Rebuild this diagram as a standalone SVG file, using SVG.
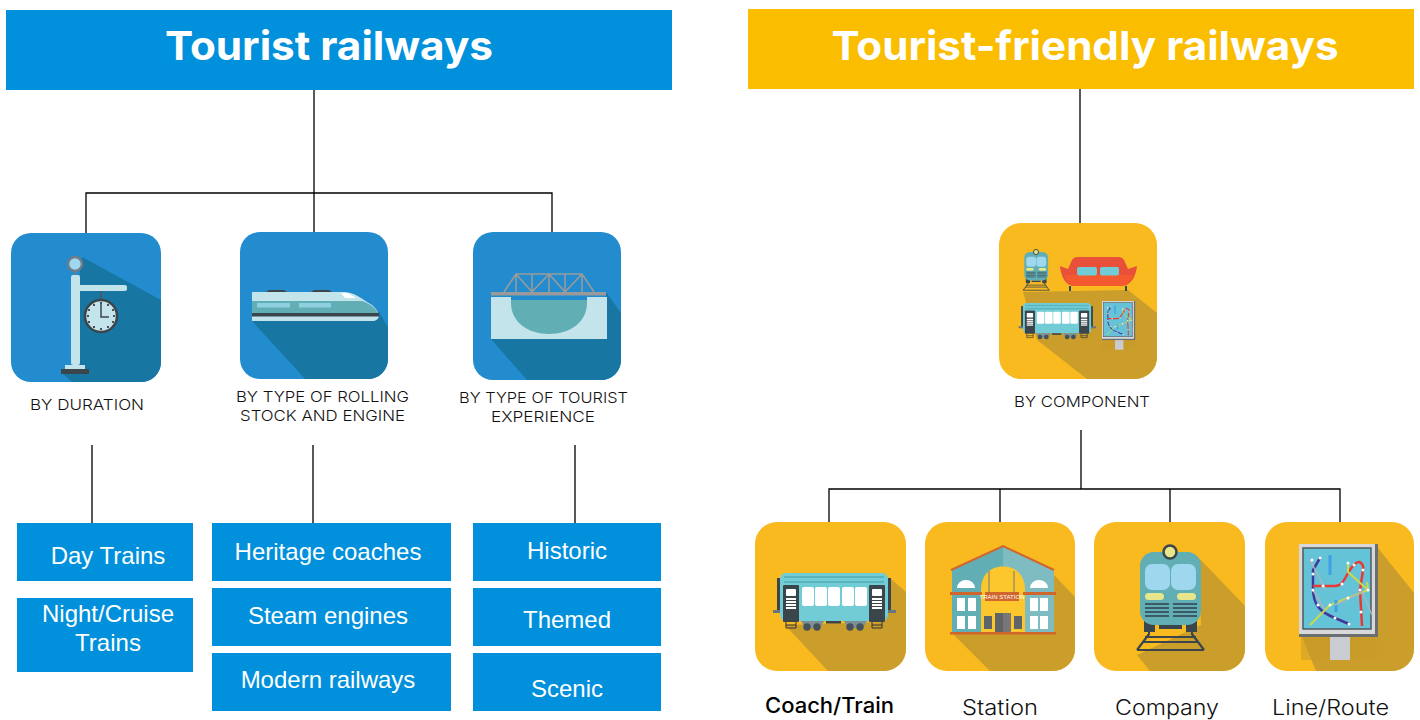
<svg xmlns="http://www.w3.org/2000/svg" width="1420" height="720" viewBox="0 0 1420 720">
<style>
.hd{font:700 40px Inter,"Liberation Sans",sans-serif;fill:#fff;text-anchor:middle}
.bx{font:24px "Liberation Sans",Arial,sans-serif;fill:#fff;text-anchor:middle}
.cap{font:300 15px Inter,"Liberation Sans",sans-serif;fill:#111;text-anchor:middle}
.lb{font:300 21px Inter,"Liberation Sans",sans-serif;fill:#111;text-anchor:middle}
.c{fill:none;stroke:#000;stroke-width:1.3}
.blue{fill:#0190db}
.tb{fill:#228ccf}.sb{fill:#1776a2}
.ty{fill:#f9ba20}.sy{fill:#cb9d2b}
.pale{fill:#c2e4ea}.teal{fill:#62aeb5}.dark{fill:#3b464c}.sky{fill:#9fd7ee}.aqua{fill:#72ccd6}
.tr{stroke:#9a9a9a;stroke-width:1.6;fill:none}
</style>
<defs>
<clipPath id="c1"><rect x="11" y="233" width="150" height="149" rx="20"/></clipPath>
<clipPath id="c2"><rect x="240" y="232" width="148" height="147" rx="20"/></clipPath>
<clipPath id="c3"><rect x="473" y="232" width="148" height="148" rx="20"/></clipPath>
<clipPath id="c4"><rect x="999" y="223" width="158" height="156" rx="22"/></clipPath>
<clipPath id="c5"><rect x="755" y="522" width="151" height="149" rx="22"/></clipPath>
<clipPath id="c6"><rect x="925" y="522" width="150" height="149" rx="22"/></clipPath>
<clipPath id="c7"><rect x="1094" y="522" width="151" height="149" rx="22"/></clipPath>
<clipPath id="c8"><rect x="1265" y="522" width="149" height="149" rx="22"/></clipPath>
<filter id="soft"><feGaussianBlur stdDeviation=".5"/></filter>
<g id="coach">
<rect x="777" y="578" width="3" height="35" class="dark"/><rect x="888" y="578" width="3" height="35" class="dark"/>
<rect x="773" y="610" width="8" height="3" fill="#66757f"/><rect x="888" y="610" width="8" height="3" fill="#66757f"/>
<rect x="780" y="573" width="108" height="48" rx="6" class="aqua"/>
<rect x="784" y="576" width="100" height="2" fill="#58b4bf"/><rect x="784" y="581" width="100" height="2" fill="#58b4bf"/>
<g fill="#fff"><rect x="802" y="587" width="12" height="19" rx="2"/><rect x="815" y="587" width="12" height="19" rx="2"/><rect x="828" y="587" width="12" height="19" rx="2"/><rect x="842" y="587" width="12" height="19" rx="2"/><rect x="855" y="587" width="12" height="19" rx="2"/></g>
<rect x="783" y="585" width="16" height="37" rx="1" class="dark"/><rect x="869" y="585" width="16" height="37" rx="1" class="dark"/>
<g fill="#fff"><rect x="786" y="589" width="10" height="7" rx="1"/><rect x="786" y="598" width="10" height="2"/><rect x="786" y="601" width="10" height="2"/><rect x="786" y="604" width="10" height="2"/><rect x="786" y="607" width="10" height="2"/>
<rect x="872" y="589" width="10" height="7" rx="1"/><rect x="872" y="598" width="10" height="2"/><rect x="872" y="601" width="10" height="2"/><rect x="872" y="604" width="10" height="2"/><rect x="872" y="607" width="10" height="2"/></g>
<path d="M786 622v6h10v-6M786 625h10M872 622v6h10v-6M872 625h10" stroke="#333" fill="none"/>
<path d="M801 621h23l-4 7h-15zM844 621h23l-4 7h-15z" fill="#7f8f96"/>
<rect x="826" y="621" width="15" height="2.500" class="dark"/>
<g fill="#44525a"><circle cx="807" cy="627" r="3.700"/><circle cx="817" cy="627" r="3.700"/><circle cx="850" cy="627" r="3.700"/><circle cx="860" cy="627" r="3.700"/></g>
</g>
<g id="loco">
<rect x="1144" y="620" width="11" height="12" class="dark"/><rect x="1186" y="620" width="11" height="12" class="dark"/>
<rect x="1159" y="625" width="23" height="4" class="dark"/>
<path d="M1149 632V635M1192 632V635" stroke="#3b464c" stroke-width="2"/>
<path d="M1137 650L1149 634M1204 650L1192 634M1137 650H1204" fill="none" stroke="#3b464c" stroke-width="2.200"/>
<path d="M1145 637h51M1142 642h57" stroke="#3b464c" stroke-width="2"/>
<rect x="1140" y="552" width="61" height="73" rx="14" class="teal"/>
<rect x="1145" y="564" width="25" height="26" rx="7" class="sky"/><rect x="1171" y="564" width="25" height="26" rx="7" class="sky"/>
<rect x="1145" y="593" width="19" height="7" rx="3.500" fill="#e8e68a"/><rect x="1177" y="593" width="19" height="7" rx="3.500" fill="#e8e68a"/>
<path d="M1145 604h24M1145 608h24M1145 612h24M1145 616h24M1173 604h24M1173 608h24M1173 612h24M1173 616h24" stroke="#3b5a66" stroke-width="2"/>
<circle cx="1170" cy="552" r="6.500" fill="#e8e68a" stroke="#3b464c" stroke-width="2.500"/>
</g>
<g id="map">
<rect x="1301" y="637" width="76" height="23" fill="#c99b2a" opacity=".55"/>
<rect x="1330" y="637" width="20" height="23" fill="#c9ccd0"/>
<rect x="1299" y="544" width="79" height="93" fill="#6b6f72"/>
<rect x="1299" y="544" width="76" height="90" fill="#d6d8da"/>
<rect x="1303" y="548" width="68" height="81" fill="#65c3d8" stroke="#55595c" stroke-width="1.500"/>
<g filter="url(#soft)">
<path d="M1320 558L1313 570V588C1313 605 1320 612 1335 618L1349 624" fill="none" stroke="#42389b" stroke-width="2.500"/>
<path d="M1313 586H1335C1345 586 1346 572 1354 565C1360 558 1364 565 1363 570L1360 590L1362 626" fill="none" stroke="#e63a36" stroke-width="2.500"/>
<path d="M1310 625L1330 605L1348 598L1368 590L1367 582M1348 563V572L1368 590" fill="none" stroke="#c9d94a" stroke-width="2"/>
<path d="M1330 555V575M1336 600V612" fill="none" stroke="#3fa0e6" stroke-width="3"/>
<path d="M1310 560L1326 590M1335 605L1362 592L1372 615M1313 590L1325 610" fill="none" stroke="#aab4bb" stroke-width="1.500"/>
<g fill="#fff"><circle cx="1320" cy="558" r="1.500"/><circle cx="1313" cy="574" r="1.500"/><circle cx="1313" cy="590" r="1.500"/><circle cx="1318" cy="605" r="1.500"/><circle cx="1335" cy="618" r="1.500"/><circle cx="1349" cy="624" r="1.500"/><circle cx="1323" cy="586" r="1.500"/><circle cx="1342" cy="584" r="1.500"/><circle cx="1354" cy="565" r="1.500"/><circle cx="1363" cy="570" r="1.500"/><circle cx="1360" cy="590" r="1.500"/><circle cx="1361" cy="612" r="1.500"/><circle cx="1348" cy="598" r="1.500"/><circle cx="1330" cy="605" r="1.500"/><circle cx="1368" cy="590" r="1.500"/><circle cx="1348" cy="563" r="1.500"/><circle cx="1312" cy="560" r="1.500"/></g>
</g>
</g>
</defs>

<g id="connectors">
<path class="c" d="M314 90V232M86 233V193H552V232"/>
<path class="c" d="M92 445V523M313 445V523M575 445V523"/>
<path class="c" d="M1080 89V223M1081 430V489M829 522V489H1340V522M1000 489V522M1170 489V522"/>
</g>

<g id="header-tourist"><rect class="blue" x="6" y="10" width="666" height="80"/><text class="hd" x="329" y="60" textLength="328" lengthAdjust="spacingAndGlyphs">Tourist railways</text></g>
<g id="header-friendly"><rect fill="#fabd00" x="748" y="9" width="666" height="80"/><text class="hd" x="1085" y="60" textLength="507" lengthAdjust="spacingAndGlyphs">Tourist-friendly railways</text></g>

<g id="by-duration">
<rect class="tb" x="11" y="233" width="150" height="149" rx="20"/>
<path class="sb" clip-path="url(#c1)" d="M82 257L161 300V382H72L61 372L80 360V270Z"/>
<circle cx="75" cy="264" r="7" class="sky" stroke="#6d7c88" stroke-width="2.500"/>
<rect x="74" y="270" width="2" height="6" fill="#6d7c88"/>
<rect x="71" y="275" width="9" height="90" rx="2" class="pale"/>
<rect x="78" y="285" width="49" height="6" rx="2" class="pale"/>
<rect x="65" y="365" width="20" height="5" class="pale"/>
<rect x="61" y="369" width="28" height="5" class="dark"/>
<rect x="100" y="291" width="1.500" height="8" fill="#555"/>
<circle cx="101" cy="316" r="16" class="pale" stroke="#3b464c" stroke-width="2.500"/>
<path d="M101 304V317H109" fill="none" stroke="#3b464c" stroke-width="1.500"/>
<g fill="#222"><circle cx="101" cy="303" r="1"/><circle cx="108" cy="305" r="1"/><circle cx="113" cy="310" r="1"/><circle cx="114" cy="316" r="1"/><circle cx="113" cy="322" r="1"/><circle cx="108" cy="327" r="1"/><circle cx="101" cy="329" r="1"/><circle cx="94" cy="327" r="1"/><circle cx="89" cy="322" r="1"/><circle cx="88" cy="316" r="1"/><circle cx="89" cy="310" r="1"/><circle cx="94" cy="305" r="1"/></g>
<text class="cap" x="87" y="410" textLength="114" lengthAdjust="spacingAndGlyphs">BY DURATION</text>
</g>

<g id="by-rolling-stock">
<rect class="tb" x="240" y="232" width="148" height="147" rx="20"/>
<path class="sb" clip-path="url(#c2)" d="M252 321L297 370L305 379H388V327L379 312Z"/>
<path class="dark" d="M266 292l3-2h15l3 2zM311 292l3-2h15l3 2z"/>
<path class="pale" d="M252 292H345C354 293 360 297 367 302C373 305 377 309 379 315C379 319 376 321 372 321H252Z"/>
<path fill="#fff" d="M341 293H348L356 298H345Z"/>
<path class="teal" d="M252 301H362C368 303 375 307 378 313H252Z"/>
<rect x="257" y="303" width="33" height="4.500" fill="#8ecfe0"/><rect x="299" y="303" width="32" height="4.500" fill="#8ecfe0"/>
<rect x="252" y="313" width="127" height="3.500" class="dark"/>
<text class="cap" x="322.500" y="402" textLength="173" lengthAdjust="spacingAndGlyphs">BY TYPE OF ROLLING</text>
<text class="cap" x="322.500" y="421" textLength="165" lengthAdjust="spacingAndGlyphs">STOCK AND ENGINE</text>
</g>

<g id="by-experience">
<rect class="tb" x="473" y="232" width="148" height="148" rx="20"/>
<path class="sb" clip-path="url(#c3)" d="M491 339L527 380H621V313L606 292L607 339Z"/>
<path class="pale" d="M491 297H607V339H491Z"/>
<rect class="tb" x="511" y="297" width="76" height="3"/>
<path class="teal" d="M511 300H587V303C587 322 570 334 549 334C528 334 511 322 511 303Z"/>
<path class="tr" d="M504 292L516 274H582L594 292M516 274V292M532 274V292M549 274V292M565 274V292M582 274V292M516 274L532 292M532 292L549 274M549 274L565 292M565 292L582 274"/>
<rect x="491" y="292" width="115" height="3.500" fill="#9a9a9a"/>
<text class="cap" x="543.500" y="403" textLength="169" lengthAdjust="spacingAndGlyphs">BY TYPE OF TOURIST</text>
<text class="cap" x="543" y="422" textLength="104" lengthAdjust="spacingAndGlyphs">EXPERIENCE</text>
</g>

<g id="box-day"><rect class="blue" x="17" y="523" width="176" height="58"/><text class="bx" x="108" y="564">Day Trains</text></g>
<g id="box-night"><rect class="blue" x="17" y="598" width="176" height="74"/><text class="bx" x="108" y="622">Night/Cruise</text><text class="bx" x="108" y="651">Trains</text></g>
<g id="box-heritage"><rect class="blue" x="212" y="523" width="239" height="58"/><text class="bx" x="328" y="560">Heritage coaches</text></g>
<g id="box-steam"><rect class="blue" x="212" y="588" width="239" height="58"/><text class="bx" x="328" y="624">Steam engines</text></g>
<g id="box-modern"><rect class="blue" x="212" y="653" width="239" height="58"/><text class="bx" x="328" y="688">Modern railways</text></g>
<g id="box-historic"><rect class="blue" x="473" y="523" width="188" height="58"/><text class="bx" x="567" y="559">Historic</text></g>
<g id="box-themed"><rect class="blue" x="473" y="588" width="188" height="58"/><text class="bx" x="567" y="628">Themed</text></g>
<g id="box-scenic"><rect class="blue" x="473" y="653" width="188" height="58"/><text class="bx" x="567" y="697">Scenic</text></g>

<g id="by-component">
<rect class="ty" x="999" y="223" width="158" height="156" rx="22"/>
<path class="sy" clip-path="url(#c4)" d="M1023 292L1128 290L1157 313V379H1087L1037 340Z"/>
<use href="#loco" transform="translate(1036 252) scale(.39) translate(-1170 -552)"/>
<path d="M1060 266L1068 269L1072 260C1073 258 1075 257 1078 257H1118C1121 257 1123 258 1124 260L1128 269L1137 266C1136 277 1130 286 1122 286H1074C1066 286 1061 277 1060 266Z" fill="#e8503a"/>
<path d="M1064 275H1133C1130 282 1126 286 1122 286H1074C1070 286 1067 282 1064 275Z" fill="#f4592f"/>
<rect x="1077" y="267" width="20" height="8.500" rx="2" class="aqua"/><rect x="1100" y="267" width="19" height="8.500" rx="2" class="aqua"/>
<path d="M1070 286v5M1126 286v5" stroke="#2f4a5a" stroke-width="2"/>
<use href="#coach" transform="translate(1023 303) scale(.63) translate(-780 -573)"/>
<use href="#map" transform="translate(1102 301) scale(.42) translate(-1299 -544)"/>
<text class="cap" x="1082" y="407" textLength="136" lengthAdjust="spacingAndGlyphs">BY COMPONENT</text>
</g>

<g id="coach-train">
<rect class="ty" x="755" y="522" width="151" height="149" rx="22"/>
<path class="sy" clip-path="url(#c5)" d="M785 625L828 671H906V592L890 578L885 622Z"/>
<use href="#coach"/>
<text class="lb" x="829.500" y="713" textLength="129" lengthAdjust="spacingAndGlyphs" style="font-weight:500;fill:#000">Coach/Train</text>
</g>

<g id="station">
<rect class="ty" x="925" y="522" width="150" height="149" rx="22"/>
<path class="sy" clip-path="url(#c6)" d="M952 633L990 671H1075V597L1054 575V633Z"/>
<path class="teal" d="M952 570L1003 546L1054 570V633H952Z"/>
<path d="M1003 546L1054 570V633H1003Z" fill="#fff" opacity=".18"/>
<path d="M951 570L1003 546L1054 570" fill="none" stroke="#d0662c" stroke-width="2"/>
<path d="M981 632V590C981 575 990 566.500 1003 566.500C1016 566.500 1025 575 1025 590V632Z" fill="#fcc72c"/>
<path d="M989 571V592M1014 571V592" stroke="#777" stroke-width="1"/>
<path d="M957 588A9 8 0 0 1 975 588ZM1030 588A9 8 0 0 1 1048 588Z" fill="#fff"/>
<rect x="950" y="592" width="32" height="3" fill="#d0662c"/><rect x="1023" y="592" width="33" height="3" fill="#d0662c"/>
<g fill="#fff"><rect x="957" y="598" width="8" height="13"/><rect x="968" y="598" width="8" height="13"/><rect x="957" y="616" width="8" height="13"/><rect x="968" y="616" width="8" height="13"/><rect x="1030" y="598" width="8" height="13"/><rect x="1040" y="598" width="8" height="13"/><rect x="1030" y="616" width="8" height="13"/><rect x="1040" y="616" width="8" height="13"/></g>
<rect x="985" y="592" width="34" height="9" fill="#d0662c"/>
<text x="1002" y="599" text-anchor="middle" font-family="Liberation Sans,sans-serif" font-size="6" fill="#fff">TRAIN STATION</text>
<rect x="984" y="616" width="8" height="13" fill="#5f6468"/><rect x="1014" y="616" width="8" height="13" fill="#5f6468"/>
<rect x="995" y="613" width="16" height="19" fill="#5f6468"/>
<rect x="1003" y="613" width="8" height="19" fill="#777"/>
<rect x="950" y="632" width="106" height="2.500" fill="#d0662c"/>
<text class="lb" x="1000" y="715" textLength="76" lengthAdjust="spacingAndGlyphs">Station</text>
</g>

<g id="company">
<rect class="ty" x="1094" y="522" width="151" height="149" rx="22"/>
<path class="sy" clip-path="url(#c7)" d="M1198 557L1245 606V671H1150L1137 655L1201 625Z"/>
<use href="#loco"/>
<text class="lb" x="1167" y="715" textLength="104" lengthAdjust="spacingAndGlyphs">Company</text>
</g>

<g id="line-route">
<rect class="ty" x="1265" y="522" width="149" height="149" rx="22"/>
<path class="sy" clip-path="url(#c8)" d="M1378 548L1414 593V671H1316L1302 637H1378Z"/>
<use href="#map"/>
<text class="lb" x="1330.500" y="715" textLength="117" lengthAdjust="spacingAndGlyphs">Line/Route</text>
</g>
</svg>
